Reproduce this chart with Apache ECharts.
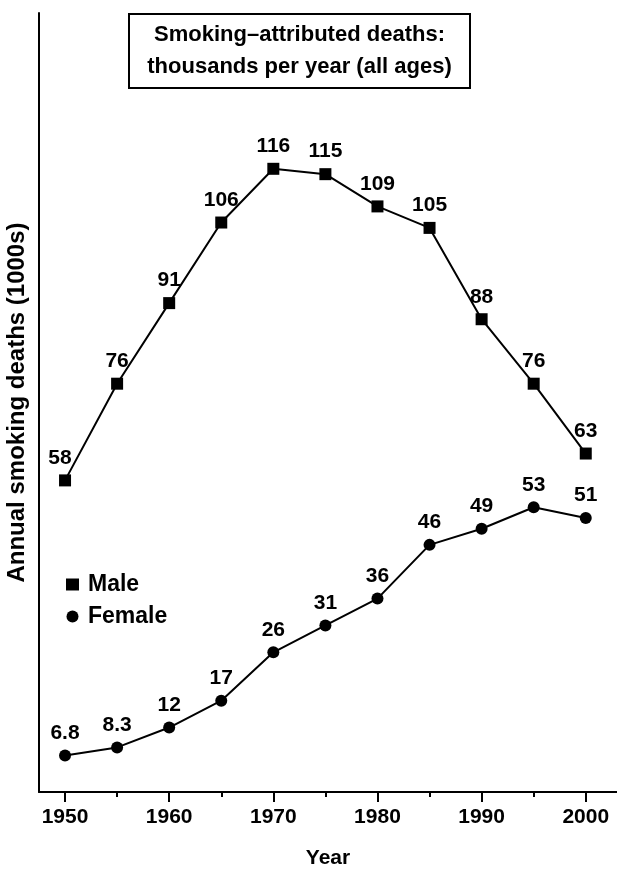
<!DOCTYPE html>
<html>
<head>
<meta charset="utf-8">
<script src="https://cdn.jsdelivr.net/npm/echarts@6/dist/echarts.min.js"></script>
<style>html,body{margin:0;padding:0;background:#fff}#c{width:617px;height:870px}</style>
</head>
<body>
<div id="c"></div>
<script>
const years = [1950, 1955, 1960, 1965, 1970, 1975, 1980, 1985, 1990, 1995, 2000];
const male = [58, 76, 91, 106, 116, 115, 109, 105, 88, 76, 63];
const female = [6.8, 8.3, 12, 17, 26, 31, 36, 46, 49, 53, 51];
const maleLabels = ['58', '76', '91', '106', '116', '115', '109', '105', '88', '76', '63'];
const femaleLabels = ['6.8', '8.3', '12', '17', '26', '31', '36', '46', '49', '53', '51'];
const majorTicks = [1950, 1960, 1970, 1980, 1990, 2000];
const minorTicks = [1955, 1965, 1975, 1985, 1995];
const titleLines = ['Smoking\u2013attributed deaths:', 'thousands per year (all ages)'];

const FONT = 'Liberation Sans, Arial, Helvetica, sans-serif';
const chart = echarts.init(document.getElementById('c'), null, {renderer: 'canvas'});

function pts(vals, labels, series) {
  return years.map((y, i) => {
    const item = {value: [y, vals[i]], label: {formatter: labels[i]}};
    if (series === 'male' && i === 0) item.label.offset = [-5, 0];
    return item;
  });
}

const labelStyle = {show: true, position: 'top', distance: 6, color: '#000', fontFamily: FONT, fontWeight: 'bold', fontSize: 21};

chart.setOption({
  animation: false,
  backgroundColor: '#fff',
  grid: {left: 39, right: 0, top: 13, bottom: 78, containLabel: false, outerBoundsMode: 'none'},
  graphic: [{
    type: 'group', left: 128, top: 13,
    children: [
      {type: 'rect', shape: {x: 0, y: 0, width: 341, height: 74}, style: {fill: '#fff', stroke: '#000', lineWidth: 2}},
      {type: 'text', x: 170.5, y: 37, style: {text: titleLines.join('\n'), fill: '#000', font: 'bold 22px ' + FONT, align: 'center', verticalAlign: 'middle', lineHeight: 32}}
    ]
  }],
  legend: {
    orient: 'vertical', left: 61, top: 568, itemGap: 9, itemWidth: 13, itemHeight: 12,
    textStyle: {color: '#000', fontFamily: FONT, fontWeight: 'bold', fontSize: 23, lineHeight: 22, padding: [0, 0, 0, 4]},
    data: [{name: 'Male', icon: 'rect'}, {name: 'Female', icon: 'circle'}]
  },
  xAxis: [{
    type: 'value', min: 1947.5, max: 2003,
    name: 'Year', nameLocation: 'middle', nameGap: 56,
    nameTextStyle: {color: '#000', fontFamily: FONT, fontWeight: 'bold', fontSize: 21},
    axisLine: {show: true, onZero: false, lineStyle: {color: '#000', width: 2}},
    axisTick: {show: true, customValues: majorTicks, length: 10, lineStyle: {color: '#000', width: 2}},
    axisLabel: {customValues: majorTicks, margin: 15, color: '#000', fontFamily: FONT, fontWeight: 'bold', fontSize: 21, formatter: v => String(v)},
    splitLine: {show: false}
  }, {
    type: 'value', min: 1947.5, max: 2003, position: 'bottom',
    axisLine: {show: false},
    axisTick: {show: true, customValues: minorTicks, length: 5, lineStyle: {color: '#000', width: 2}},
    axisLabel: {show: false},
    splitLine: {show: false}
  }],
  yAxis: {
    type: 'value', min: 0, max: 145,
    name: 'Annual smoking deaths (1000s)', nameLocation: 'middle', nameGap: 10, nameRotate: 90,
    nameTextStyle: {color: '#000', fontFamily: FONT, fontWeight: 'bold', fontSize: 24},
    axisLine: {show: true, onZero: false, lineStyle: {color: '#000', width: 2}},
    axisTick: {show: false}, axisLabel: {show: false}, splitLine: {show: false}
  },
  series: [{
    name: 'Male', type: 'line', xAxisIndex: 0,
    data: pts(male, maleLabels, 'male'),
    symbol: 'rect', symbolSize: 12,
    lineStyle: {color: '#000', width: 2}, itemStyle: {color: '#000'},
    label: labelStyle
  }, {
    name: 'Female', type: 'line', xAxisIndex: 0,
    data: pts(female, femaleLabels, 'female'),
    symbol: 'circle', symbolSize: 12,
    lineStyle: {color: '#000', width: 2}, itemStyle: {color: '#000'},
    label: labelStyle
  }]
});
</script>
</body>
</html>
